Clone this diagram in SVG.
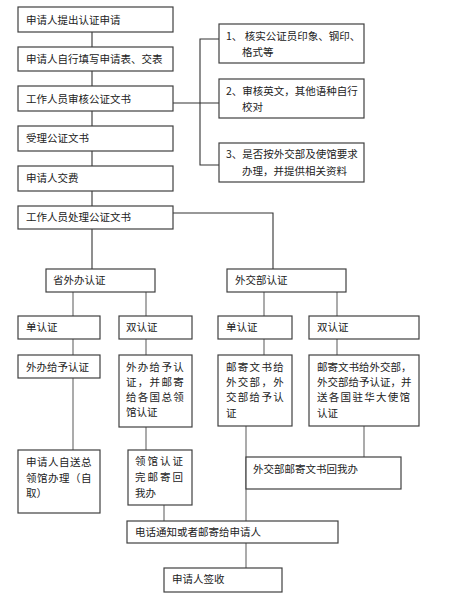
<svg xmlns="http://www.w3.org/2000/svg" width="455" height="600" viewBox="0 0 455 600">
<style>
.b{fill:#fff;stroke:#404040;stroke-width:1.2}
.t{font-family:"Noto Sans CJK SC","Noto Sans",sans-serif;font-size:10.5px;fill:#222}
.s{letter-spacing:1.3px}
.c line,.c polyline{stroke:#333;stroke-width:1.1;fill:none}
.c .g{stroke:#666}
</style>
<rect width="455" height="600" fill="#fff"/>
<g class="c" id="connectors">
<line x1="92" y1="32" x2="92" y2="47"/>
<line x1="92" y1="71" x2="92" y2="86"/>
<line x1="92" y1="111" x2="92" y2="126"/>
<line x1="92" y1="151" x2="92" y2="166"/>
<line x1="92" y1="191" x2="92" y2="206"/>
<line x1="173" y1="103" x2="219" y2="103"/>
<polyline points="219,39 200,39 200,165 219,165"/>
<line x1="92" y1="229" x2="92" y2="269"/>
<polyline points="173,213 273,213 273,269"/>
<line class="g" x1="73" y1="292" x2="73" y2="316"/>
<line class="g" x1="146" y1="292" x2="146" y2="316"/>
<line class="g" x1="264" y1="292" x2="264" y2="316"/>
<line class="g" x1="337" y1="292" x2="337" y2="316"/>
<line class="g" x1="73" y1="339" x2="73" y2="355"/>
<line class="g" x1="146" y1="339" x2="146" y2="355"/>
<line class="g" x1="264" y1="339" x2="264" y2="355"/>
<line class="g" x1="337" y1="339" x2="337" y2="355"/>
<line class="g" x1="73" y1="378" x2="73" y2="450"/>
<line class="g" x1="146" y1="427" x2="146" y2="450"/>
<line class="g" x1="164" y1="505" x2="164" y2="521"/>
<line class="g" x1="246" y1="426" x2="246" y2="521"/>
<line class="g" x1="364" y1="426" x2="364" y2="457"/>
<line class="g" x1="246" y1="543" x2="246" y2="568"/>
</g>
<g id="n1"><rect class="b" x="18" y="7" width="155" height="25"/><text class="t" x="26" y="24">申请人提出认证申请</text></g>
<g id="n2"><rect class="b" x="18" y="47" width="155" height="24"/><text class="t" x="26" y="63">申请人自行填写申请表、交表</text></g>
<g id="n3"><rect class="b" x="18" y="86" width="155" height="25"/><text class="t" x="26" y="103">工作人员审核公证文书</text></g>
<g id="n4"><rect class="b" x="18" y="126" width="155" height="25"/><text class="t" x="26" y="142">受理公证文书</text></g>
<g id="n5"><rect class="b" x="18" y="166" width="155" height="25"/><text class="t" x="26" y="182">申请人交费</text></g>
<g id="r1"><rect class="b" x="219" y="24" width="145" height="39"/><text class="t" x="226" y="40">1、 核实公证员印象、钢印、</text><text class="t" x="242" y="56">格式等</text></g>
<g id="r2"><rect class="b" x="219" y="79" width="145" height="39"/><text class="t" x="226" y="95">2、审核英文，其他语种自行</text><text class="t" x="242" y="111">校对</text></g>
<g id="r3"><rect class="b" x="219" y="143" width="145" height="39"/><text class="t" x="226" y="158">3、是否按外交部及使馆要求</text><text class="t" x="242" y="175">办理，并提供相关资料</text></g>
<g id="n6"><rect class="b" x="18" y="206" width="155" height="23"/><text class="t" x="26" y="221">工作人员处理公证文书</text></g>
<g id="p0"><rect class="b" x="46" y="269" width="109" height="23"/><text class="t" x="53" y="284">省外办认证</text></g>
<g id="w0"><rect class="b" x="227" y="269" width="119" height="23"/><text class="t" x="235" y="284">外交部认证</text></g>
<g id="p1"><rect class="b" x="18" y="316" width="82" height="23"/><text class="t" x="26" y="331">单认证</text></g>
<g id="p2"><rect class="b" x="119" y="316" width="73" height="23"/><text class="t" x="126" y="331">双认证</text></g>
<g id="w1"><rect class="b" x="218" y="316" width="74" height="23"/><text class="t" x="226" y="331">单认证</text></g>
<g id="w2"><rect class="b" x="309" y="316" width="110" height="23"/><text class="t" x="317" y="331">双认证</text></g>
<g id="p3"><rect class="b" x="18" y="355" width="82" height="23"/><text class="t" x="26" y="371">外办给予认证</text></g>
<g id="p4"><rect class="b" x="119" y="355" width="73" height="72"/><text class="t s" x="126" y="371">外办给予认</text><text class="t s" x="126" y="386">证，并邮寄</text><text class="t s" x="126" y="401">给各国总领</text><text class="t" x="126" y="416">馆认证</text></g>
<g id="w3"><rect class="b" x="218" y="355" width="74" height="71"/><text class="t s" x="226" y="371">邮寄文书给</text><text class="t s" x="226" y="386">外交部，外</text><text class="t s" x="226" y="401">交部给予认</text><text class="t" x="226" y="417">证</text></g>
<g id="w4"><rect class="b" x="309" y="355" width="110" height="71"/><text class="t" x="317" y="371">邮寄文书给外交部，</text><text class="t" x="317" y="386">外交部给予认证，并</text><text class="t s" x="317" y="401">送各国驻华大使馆</text><text class="t" x="317" y="417">认证</text></g>
<g id="p5"><rect class="b" x="18" y="450" width="82" height="63"/><text class="t" x="26" y="466" letter-spacing="0.5">申请人自送总</text><text class="t" x="26" y="482" letter-spacing="0.5">领馆办理（自</text><text class="t" x="26" y="497">取）</text></g>
<g id="p6"><rect class="b" x="128" y="450" width="64" height="55"/><text class="t" x="135" y="465" letter-spacing="2">领馆认证</text><text class="t" x="135" y="481" letter-spacing="2">完邮寄回</text><text class="t" x="135" y="497">我办</text></g>
<g id="w5"><rect class="b" x="246" y="457" width="155" height="32"/><text class="t" x="253" y="473">外交部邮寄文书回我办</text></g>
<g id="n7"><rect class="b" x="127" y="521" width="211" height="22"/><text class="t" x="135" y="536">电话通知或者邮寄给申请人</text></g>
<g id="n8"><rect class="b" x="164" y="568" width="118" height="24"/><text class="t" x="172" y="583">申请人签收</text></g>
</svg>
